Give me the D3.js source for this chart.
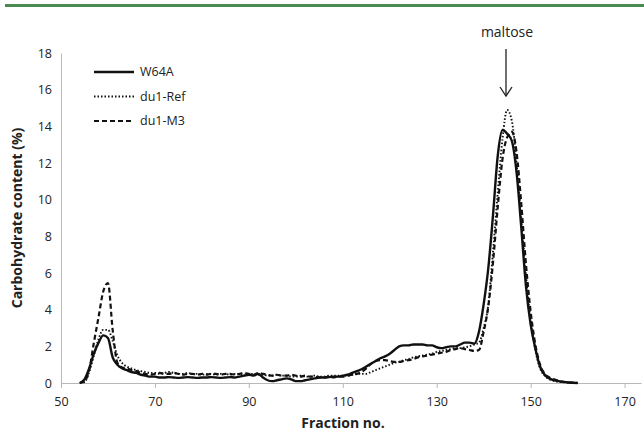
<!DOCTYPE html>
<html>
<head>
<meta charset="utf-8" />
<title>Carbohydrate content</title>
<style>
    html, body { margin: 0; padding: 0; background: #fff; }
    text { font-family: "Open Sans", sans-serif; fill: #222; }
</style>
</head>
<body>
<svg width="644" height="438"></svg>
<script src="https://d3js.org/d3.v7.min.js"></script>
<script>
// fraction numbers 54..160
var fractions = d3.range(54, 161);

var w64a = [
    0, 0.2, 0.8, 1.6, 2.2, 2.6, 2.45, 1.4, 1.0, 0.8, 0.7, 0.6, 0.55, 0.45, 0.4, 0.35,      // 54-69
    0.35, 0.3, 0.3, 0.32, 0.3, 0.28, 0.3, 0.32, 0.3, 0.28, 0.3, 0.3, 0.32, 0.3, 0.28, 0.3, // 70-85
    0.32, 0.3, 0.35, 0.4, 0.45, 0.4, 0.5, 0.3, 0.15, 0.1, 0.15, 0.2, 0.25, 0.2, 0.1, 0.1,   // 86-101
    0.15, 0.2, 0.25, 0.3, 0.3, 0.32, 0.35, 0.35,                                           // 102-109
    0.4, 0.45, 0.55, 0.65, 0.75, 0.9, 1.05, 1.2, 1.35, 1.45, 1.6, 1.8, 2.0, 2.05, 2.05,     // 110-124
    2.1, 2.1, 2.1, 2.05, 2.05, 1.95, 1.9, 1.95, 2.0, 2.0, 2.1, 2.2, 2.2, 2.15, 2.8,         // 125-139
    4.3, 6.3, 9.2, 12.4, 13.8, 13.6, 13.2, 11.5, 8.5, 5.3, 3.2, 1.9, 0.9, 0.45, 0.25,       // 140-154
    0.15, 0.1, 0.06, 0.03, 0.01, 0                                                        // 155-160
];

var du1Ref = [
    0, 0.05, 0.6, 1.5, 2.4, 2.9, 2.9, 2.3, 1.5, 1.1, 0.9, 0.8, 0.7, 0.65, 0.6, 0.55,       // 54-69
    0.55, 0.5, 0.55, 0.6, 0.55, 0.5, 0.5, 0.55, 0.5, 0.5, 0.45, 0.5, 0.5, 0.45, 0.5, 0.5,   // 70-85
    0.45, 0.5, 0.5, 0.45, 0.5, 0.5, 0.45, 0.45, 0.4, 0.4, 0.45, 0.4, 0.4, 0.35, 0.35, 0.4,  // 86-101
    0.35, 0.35, 0.4, 0.35, 0.35, 0.4, 0.4, 0.4,                                            // 102-109
    0.4, 0.4, 0.45, 0.5, 0.5, 0.5, 0.6, 0.7, 0.8, 0.9, 1.0, 1.1, 1.15, 1.25, 1.3,           // 110-124
    1.4, 1.45, 1.5, 1.55, 1.6, 1.7, 1.75, 1.8, 1.85, 1.9, 1.9, 1.95, 2.0, 2.1, 2.2,         // 125-139
    3.0, 4.3, 7.2, 10.4, 13.3, 14.9, 14.3, 12.0, 9.0, 5.9, 3.4, 1.8, 0.8, 0.4, 0.2,         // 140-154
    0.12, 0.07, 0.04, 0.02, 0.01, 0                                                       // 155-160
];

var du1M3 = [
    0, 0.1, 0.7, 2.2, 3.6, 5.0, 5.45, 2.9, 1.1, 0.85, 0.8, 0.7, 0.65, 0.55, 0.5, 0.45,    // 54-69
    0.5, 0.55, 0.5, 0.5, 0.55, 0.5, 0.45, 0.5, 0.5, 0.45, 0.5, 0.45, 0.5, 0.5, 0.45, 0.5,  // 70-85
    0.5, 0.45, 0.5, 0.55, 0.5, 0.45, 0.55, 0.5, 0.45, 0.4, 0.45, 0.4, 0.4, 0.45, 0.4, 0.35, // 86-101
    0.4, 0.35, 0.35, 0.3, 0.3, 0.35, 0.3, 0.35,                                           // 102-109
    0.35, 0.4, 0.45, 0.5, 0.6, 0.8, 1.05, 1.2, 1.25, 1.25, 1.2, 1.15, 1.15, 1.2, 1.25,     // 110-124
    1.3, 1.4, 1.45, 1.5, 1.55, 1.6, 1.65, 1.7, 1.8, 1.85, 1.9, 1.85, 1.8, 1.75, 1.8,       // 125-139
    2.8, 4.2, 6.6, 9.6, 12.2, 13.4, 13.7, 12.6, 9.8, 6.5, 3.9, 2.1, 1.0, 0.5, 0.3,         // 140-154
    0.2, 0.12, 0.07, 0.04, 0.02, 0                                                       // 155-160
];

var series = [
    { name: "W64A", values: w64a, dash: null, width: 2.4 },
    { name: "du1-Ref", values: du1Ref, dash: "1.5,2", width: 1.9 },
    { name: "du1-M3", values: du1M3, dash: "5,3", width: 2.2 }
];

var xTicks = [50, 70, 90, 110, 130, 150, 170];
var yTicks = d3.range(0, 19, 2);

var svg = d3.select("svg");
var margin = { left: 61, right: 20, top: 53, bottom: 55 };
var width = 644 - margin.left - margin.right,
    height = 438 - margin.top - margin.bottom;

// green rule across the top
svg.append("rect")
    .attr("x", 5).attr("y", 4)
    .attr("width", 639).attr("height", 3)
    .attr("fill", "#4a8a50");

var g = svg.append("g")
    .attr("transform", "translate(" + margin.left + "," + margin.top + ")");

var x = d3.scaleLinear().domain([50, 173.5]).range([0, 580]);
var y = d3.scaleLinear().domain([0, 18]).range([height, 0]);

var xAxis = g.append("g")
    .attr("transform", "translate(0," + height + ")")
    .call(d3.axisBottom(x).tickValues(xTicks).tickSize(5).tickSizeOuter(0).tickPadding(9));

var yAxis = g.append("g")
    .call(d3.axisLeft(y).tickValues(yTicks).tickSize(0).tickPadding(9));

[xAxis, yAxis].forEach(function (a) {
    a.select(".domain").attr("stroke", "#b8b8b8");
    a.selectAll(".tick line").attr("stroke", "#b8b8b8");
    a.selectAll("text")
        .style("font-family", "'Open Sans', sans-serif")
        .style("font-size", "12.5px")
        .attr("fill", "#333");
});

var line = d3.line()
    .x(function (d, i) { return x(fractions[i]); })
    .y(function (d) { return y(d); })
    .curve(d3.curveMonotoneX);

g.selectAll(".series")
    .data(series)
    .enter().append("path")
    .attr("class", "series")
    .attr("fill", "none")
    .attr("stroke", "#111")
    .attr("stroke-width", function (d) { return d.width; })
    .attr("stroke-dasharray", function (d) { return d.dash; })
    .attr("d", function (d) { return line(d.values); });

// legend
var legend = g.selectAll(".legend")
    .data(series)
    .enter().append("g")
    .attr("transform", function (d, i) { return "translate(33," + (19 + i * 24.5) + ")"; });

legend.append("line")
    .attr("x1", 0).attr("x2", 40)
    .attr("stroke", "#111")
    .attr("stroke-width", function (d) { return d.width; })
    .attr("stroke-dasharray", function (d) { return d.dash; });

legend.append("text")
    .attr("x", 46).attr("dy", "0.35em")
    .style("font-size", "12.5px")
    .text(function (d) { return d.name; });

// maltose annotation
svg.append("text")
    .attr("x", 507).attr("y", 37)
    .attr("text-anchor", "middle")
    .style("font-size", "14px")
    .text("maltose");

svg.append("line")
    .attr("x1", 506).attr("x2", 506)
    .attr("y1", 49).attr("y2", 96)
    .attr("stroke", "#222").attr("stroke-width", 1.3);

svg.append("path")
    .attr("d", "M500,87 L506,96 L512,87")
    .attr("fill", "none")
    .attr("stroke", "#222").attr("stroke-width", 1.3);

// axis titles
svg.append("text")
    .attr("x", 343).attr("y", 428)
    .attr("text-anchor", "middle")
    .style("font-size", "14px")
    .style("font-weight", "bold")
    .text("Fraction no.");

svg.append("text")
    .attr("transform", "translate(22,218) rotate(-90)")
    .attr("text-anchor", "middle")
    .style("font-size", "14px")
    .style("font-weight", "bold")
    .text("Carbohydrate content (%)");
</script>
</body>
</html>
